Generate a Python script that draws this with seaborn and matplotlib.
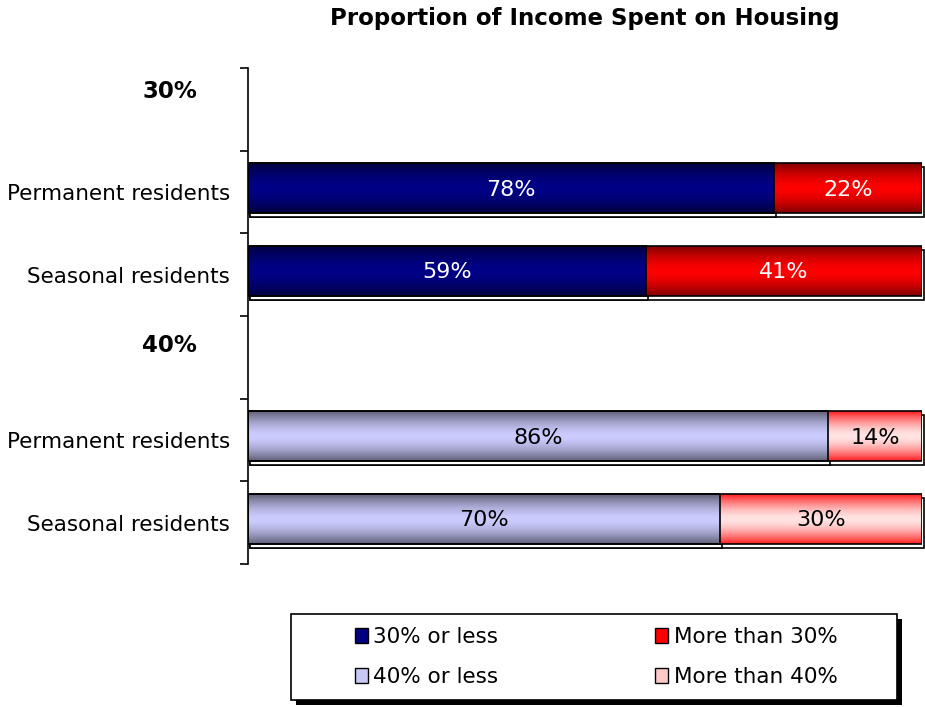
import numpy as np
import pandas as pd
import matplotlib
matplotlib.use("Agg")
import matplotlib.pyplot as plt
import matplotlib.transforms as mtransforms
from matplotlib.patches import Patch, Rectangle
from matplotlib.colors import to_rgb, to_hex
import seaborn as sns

sns.set_theme(style="white")
plt.rcParams["font.family"] = ["DejaVu Sans"]
plt.rcParams.update({"text.color": "black", "ytick.color": "black",
                     "xtick.color": "black", "axes.labelcolor": "black"})

# ---- data ----
row_keys = ["h30", "perm30", "seas30", "h40", "perm40", "seas40"]
row_labels = ["", "Permanent residents", "Seasonal residents",
              "", "Permanent residents", "Seasonal residents"]
group_headers = ["30%", "40%"]
bar_keys = ["perm30", "seas30", "perm40", "seas40"]
share_below = [78, 59, 86, 70]
share_above = [22, 41, 14, 30]
series_names = ["30% or less", "More than 30%", "40% or less", "More than 40%"]

# solid colours + gradient (edge, middle) per series
base_colors = {"30% or less": "#000080", "More than 30%": "#ff0000",
               "40% or less": "#c8c8f8", "More than 40%": "#ffc8c8"}
grad_colors = {"#000080": ("#000040", "#000088"),
               "#ff0000": ("#800000", "#ff0000"),
               "#c8c8f8": ("#606078", "#ccccff"),
               "#ffc8c8": ("#ff2020", "#ffe4e4")}

df = pd.DataFrame({"key": bar_keys, "below": share_below, "above": share_above})
df["total"] = df["below"] + df["above"]
df["thr"] = ["30", "30", "40", "40"]

pal_total = {k: (base_colors["More than 30%"] if t == "30" else base_colors["More than 40%"])
             for k, t in zip(df["key"], df["thr"])}
pal_below = {k: (base_colors["30% or less"] if t == "30" else base_colors["40% or less"])
             for k, t in zip(df["key"], df["thr"])}

fig = plt.figure(figsize=(9.25, 7.07), dpi=100)
ax = fig.add_axes([248 / 925, 1 - 564 / 707, 674 / 925, (564 - 68) / 707])

sns.barplot(data=df, x="total", y="key", order=row_keys, hue="key", palette=pal_total,
            saturation=1, legend=False, width=0.6, orient="h", ax=ax,
            edgecolor="black", linewidth=1.2)
sns.barplot(data=df, x="below", y="key", order=row_keys, hue="key", palette=pal_below,
            saturation=1, legend=False, width=0.6, orient="h", ax=ax,
            edgecolor="black", linewidth=1.2)

# gradient fill clipped to each bar, plus a thin offset shadow outline
shadow_off = mtransforms.ScaledTranslation(2 / 100, -4 / 100, fig.dpi_scale_trans)
for p in list(ax.patches):
    w = p.get_width()
    if not np.isfinite(w) or w == 0:
        continue
    # bars sit slightly above the middle of their slot in the original
    p.set_y(p.get_y() - 0.045)
    fc = to_hex(p.get_facecolor()[:3])
    edge, mid = grad_colors.get(fc, (fc, fc))
    e, m = np.array(to_rgb(edge)), np.array(to_rgb(mid))
    t = np.linspace(0, 1, 60)
    s = np.abs(2 * t - 1) ** 1.6
    col = (1 - s)[:, None] * m + s[:, None] * e
    img = np.repeat(col[:, None, :], 2, axis=1)
    x0, y0 = p.get_x(), p.get_y()
    h = p.get_height()
    sh = Rectangle((x0, y0), w, h, facecolor="white", edgecolor="black", linewidth=1.2,
                   transform=ax.transData + shadow_off, zorder=1, clip_on=False)
    ax.add_patch(sh)
    im = ax.imshow(img, extent=[x0, x0 + w, y0 + h, y0], aspect="auto",
                   interpolation="bilinear", zorder=2)
    im.set_clip_path(p)
    p.set_facecolor("none")
    p.set_zorder(3)

# value labels
for key, b, a, thr in zip(df["key"], df["below"], df["above"], df["thr"]):
    yi = row_keys.index(key) - 0.03
    dark = thr == "30"
    ax.text(b / 2, yi, f"{b}%", ha="center", va="center", fontsize=16,
            color="white" if dark else "black", zorder=5)
    ax.text(b + a / 2, yi, f"{a}%", ha="center", va="center", fontsize=16,
            color="white" if dark else "black", zorder=5)

ax.set_xlim(0, 100)
ax.set_ylim(5.5, -0.5)
ax.set_xlabel("")
ax.set_ylabel("")
ax.set_xticks([])
ax.set_yticks(range(len(row_keys)))
ax.set_yticklabels(row_labels, fontsize=15.5)
ax.set_yticks(np.arange(-0.5, 6, 1), minor=True)
ax.tick_params(axis="y", which="major", length=0, pad=13)
ax.tick_params(axis="y", which="minor", left=True, length=6, width=1.2, color="black")
for side in ["top", "right", "bottom"]:
    ax.spines[side].set_visible(False)
ax.spines["left"].set_color("black")
ax.spines["left"].set_linewidth(1.2)
ax.grid(False)

# group headers
header_shift = {"h30": -0.22, "h40": -0.14}
for hdr, key in zip(group_headers, ["h30", "h40"]):
    ax.text(-0.116, row_keys.index(key) + header_shift[key], hdr,
            transform=ax.get_yaxis_transform(),
            ha="center", va="center", fontsize=16.5, fontweight="bold", color="black")

fig.text(585 / 925, 1 - 18 / 707, "Proportion of Income Spent on Housing",
         ha="center", va="center", fontsize=16.5, fontweight="bold")

# legend box with shadow
lx0, ly0, lw, lh = 291, 614, 606, 86
fig.patches.append(Rectangle(((lx0 + 5) / 925, 1 - (ly0 + lh + 5) / 707), lw / 925, lh / 707,
                             transform=fig.transFigure, facecolor="black", edgecolor="none",
                             zorder=1))
fig.patches.append(Rectangle((lx0 / 925, 1 - (ly0 + lh) / 707), lw / 925, lh / 707,
                             transform=fig.transFigure, facecolor="white", edgecolor="black",
                             linewidth=1.2, zorder=2))
order = [0, 2, 1, 3]
handles = [Patch(facecolor=base_colors[series_names[i]], edgecolor="black", linewidth=1)
           for i in order]
labels = [series_names[i] for i in order]
leg = fig.legend(handles, labels, loc="center", bbox_to_anchor=(596 / 925, 1 - 657 / 707),
                 ncol=2, frameon=False, fontsize=15.5, handlelength=0.6, handleheight=0.7,
                 handletextpad=0.25, columnspacing=7.3, labelspacing=0.95)
leg.set_zorder(3)

plt.savefig("out.png", dpi=100)
